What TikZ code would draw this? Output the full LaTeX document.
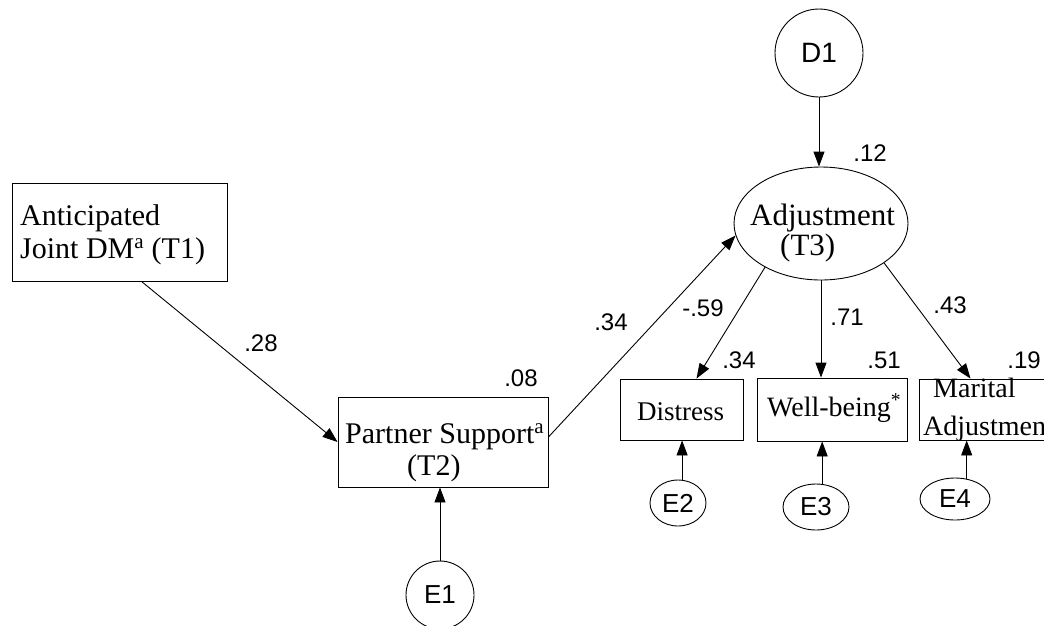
\documentclass[tikz,border=0pt]{standalone}
\usepackage{fontspec}
\setmainfont{Liberation Serif}
\newfontfamily\labelfont{Liberation Sans}
\usetikzlibrary{arrows.meta,shapes.geometric}

\tikzset{
  box/.style={draw, rectangle, inner sep=0pt, line width=0.9pt},
  latent/.style={draw, ellipse, inner sep=0pt, line width=0.9pt},
  txt/.style={inner sep=0pt, anchor=base west},
  coef/.style={inner sep=0pt, font=\labelfont\fontsize{24}{26}\selectfont},
  arr/.style={line width=0.9pt, -{Triangle[length=15pt,width=11pt]}}
}

\begin{document}
\begin{tikzpicture}[x=1pt,y=-1pt]
\useasboundingbox (0,0) rectangle (1044,625);
\fill[white] (0,0) rectangle (1044,625);

% observed variables
\node[box, minimum width=215, minimum height=98] (ant) at (119.5,232) {};
\node[txt, font=\fontsize{30}{32}\selectfont] (antA) at (20,225) {Anticipated};
\node[txt, font=\fontsize{30}{32}\selectfont] (antB) at (20,258) {Joint DM\textsuperscript{a} (T1)};

\node[box, minimum width=210, minimum height=90] (ps) at (443,442) {};
\node[txt, font=\fontsize{30}{32}\selectfont] (psA) at (345,443) {Partner Support\textsuperscript{a}};
\node[txt, font=\fontsize{30}{32}\selectfont] (psB) at (407,475) {(T2)};

\node[box, minimum width=123, minimum height=61] (dis) at (681.5,409.5) {};
\node[txt, font=\fontsize{27}{29}\selectfont] (disA) at (637,420) {Distress};

\node[box, minimum width=150, minimum height=63] (wb) at (832,409.5) {};
\node[txt, font=\fontsize{28}{30}\selectfont] (wbA) at (767,416) {Well-being\textsuperscript{*}};

\node[box, minimum width=139, minimum height=61] (mar) at (988.5,409.5) {};
\node[txt, font=\fontsize{28}{30}\selectfont] (marA) at (933,397) {Marital};
\node[txt, font=\fontsize{28}{30}\selectfont] (marB) at (923,435) {Adjustment};

% latent variable and disturbances
\node[latent, minimum width=174, minimum height=113] (adj) at (821,223.5) {};
\node[txt, font=\fontsize{31}{33}\selectfont] (adjA) at (750,225) {Adjustment};
\node[txt, font=\fontsize{31}{33}\selectfont] (adjB) at (780,255) {(T3)};

\node[latent, minimum width=88, minimum height=88, font=\labelfont\fontsize{28}{30}\selectfont] (D1) at (819,53) {D1};
\node[latent, minimum width=68, minimum height=68, font=\labelfont\fontsize{26}{28}\selectfont] (E1) at (440,595) {E1};
\node[latent, minimum width=56, minimum height=46, font=\labelfont\fontsize{26}{28}\selectfont] (E2) at (678,503) {E2};
\node[latent, minimum width=66, minimum height=46, font=\labelfont\fontsize{26}{28}\selectfont] (E3) at (816,507) {E3};
\node[latent, minimum width=70, minimum height=42, font=\labelfont\fontsize{26}{28}\selectfont] (E4) at (955,499) {E4};

% paths
\draw[arr] ([xshift=22pt]ant.south) -- (ps.west);
\draw[arr] ([yshift=5pt]ps.east) -- (adj.188);
\draw[arr] (D1.south) -- (D1.south |- adj.north);
\draw[arr] (adj.218) -- ([xshift=15pt]dis.north);
\draw[arr] (adj.south) -- (adj.south |- wb.north);
\draw[arr] (adj.328) -- ([xshift=-18pt]mar.north);
\draw[arr] (E1.north) -- (E1.north |- ps.south);
\draw[arr] (E2.80) -- (E2.80 |- dis.south);
\draw[arr] (E3.75) -- (E3.75 |- wb.south);
\draw[arr] (E4.60) -- (E4.60 |- mar.south);

% coefficients
\node[coef] (c28) at (261,343) {.28};
\node[coef] (c08) at (521,378) {.08};
\node[coef] (c34a) at (611,322) {.34};
\node[coef] (c12) at (870,153) {.12};
\node[coef] (c59) at (703,308) {-.59};
\node[coef] (c34b) at (739,360) {.34};
\node[coef] (c71) at (847,317) {.71};
\node[coef] (c51) at (884,360) {.51};
\node[coef] (c43) at (950,305) {.43};
\node[coef] (c19) at (1024,360) {.19};
\end{tikzpicture}
\end{document}
